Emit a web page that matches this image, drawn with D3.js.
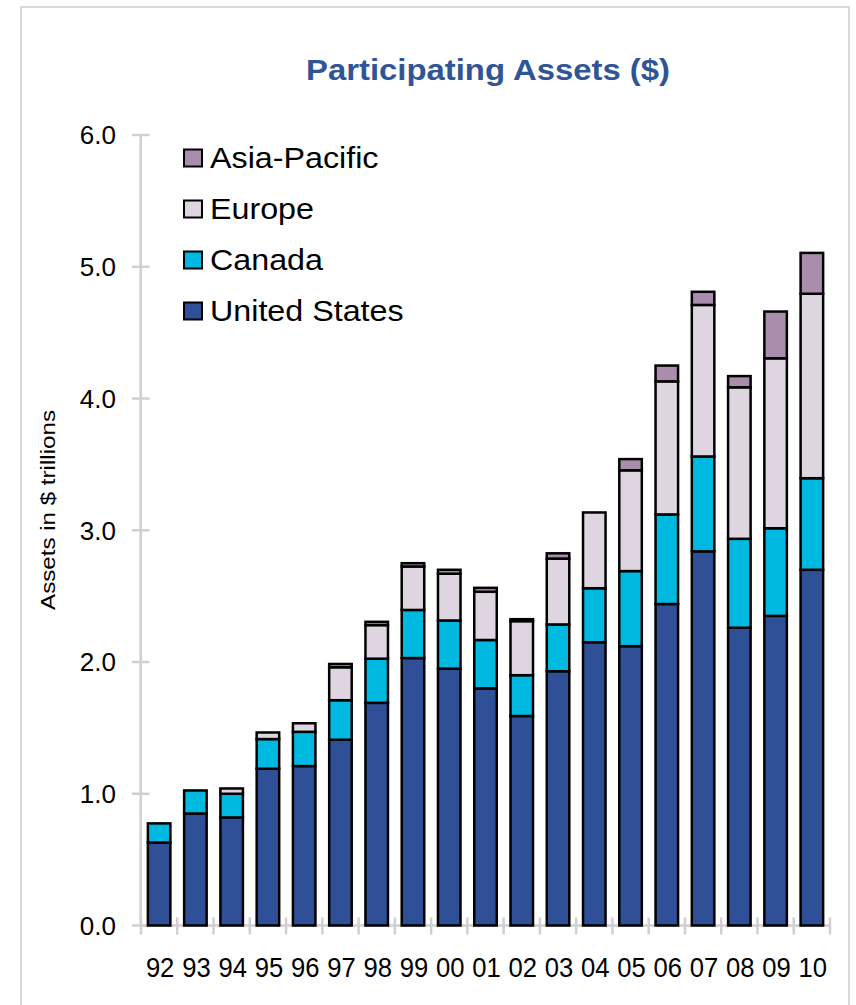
<!DOCTYPE html>
<html><head><meta charset="utf-8">
<script src="https://cdn.jsdelivr.net/npm/d3@7"></script>
<style>body{margin:0;background:#fff;}svg{display:block;font-family:"Liberation Sans",Arial,sans-serif;}</style>
</head><body>
<svg id="chart" width="856" height="1005"></svg>
<script>
const years = ["92","93","94","95","96","97","98","99","00","01","02","03","04","05","06","07","08","09","10"];
const unitedStates = [0.63,0.85,0.82,1.19,1.21,1.41,1.69,2.03,1.95,1.80,1.59,1.93,2.15,2.12,2.44,2.84,2.26,2.35,2.70];
const canada       = [0.145,0.175,0.18,0.225,0.26,0.30,0.335,0.365,0.365,0.367,0.31,0.355,0.41,0.57,0.68,0.72,0.675,0.665,0.695];
const europe       = [0,0,0.04,0.05,0.065,0.25,0.255,0.33,0.355,0.366,0.41,0.50,0.575,0.765,1.01,1.15,1.15,1.29,1.40];
const asiaPacific  = [0,0,0,0,0,0.025,0.025,0.025,0.03,0.03,0.015,0.04,0,0.085,0.12,0.10,0.085,0.355,0.31];
const seriesNames = ["United States","Canada","Europe","Asia-Pacific"];
const seriesColors = ["#2F5097","#00B9E1","#DED5E1","#AA8DAC"];
const yTicks = [0,1,2,3,4,5,6];
const titleText = "Participating Assets ($)";
const yLabel = "Assets in $ trillions";

const svg = d3.select("#chart");
// frame
svg.append("rect").attr("x",21).attr("y",7).attr("width",828).attr("height",1010)
  .attr("fill","none").attr("stroke","#d9d9d9").attr("stroke-width",2);

const x = d3.scaleBand().domain(years).range([141,830]).paddingInner(0.31).paddingOuter(0.155);
const y = d3.scaleLinear().domain([0,6]).range([925.5,135]);

const rows = years.map((yr,i)=>({year:yr,"United States":unitedStates[i],"Canada":canada[i],"Europe":europe[i],"Asia-Pacific":asiaPacific[i]}));
const stack = d3.stack().keys(seriesNames)(rows);

// axes (light grey)
const axisColor = "#d0d0d0";
svg.append("line").attr("x1",140.7).attr("x2",140.7).attr("y1",y(6)).attr("y2",y(0)+1)
  .attr("stroke",axisColor).attr("stroke-width",2.5);
svg.append("line").attr("x1",x.range()[0]).attr("x2",x.range()[1]).attr("y1",y(0)).attr("y2",y(0))
  .attr("stroke",axisColor).attr("stroke-width",2.5);
// y ticks
svg.selectAll(".yt").data(yTicks).enter().append("line")
  .attr("x1",132).attr("x2",149.5).attr("y1",d=>y(d)).attr("y2",d=>y(d))
  .attr("stroke",axisColor).attr("stroke-width",2.5);
svg.selectAll(".yl").data(yTicks).enter().append("text")
  .attr("x",116).attr("y",d=>y(d)).attr("dy","0.36em").attr("text-anchor","end")
  .attr("font-size",26).attr("fill","#000").text(d=>d3.format(".1f")(d));
// x ticks at band boundaries
const step = x.step();
const xb = d3.range(years.length+1).map(i=>x.range()[0]+i*step);
svg.selectAll(".xt").data(xb).enter().append("line")
  .attr("x1",d=>d).attr("x2",d=>d).attr("y1",y(0)-8).attr("y2",y(0)+9)
  .attr("stroke",axisColor).attr("stroke-width",2.5);
svg.selectAll(".xl").data(years).enter().append("text")
  .attr("x",d=>x(d)+x.bandwidth()/2+1).attr("y",977).attr("text-anchor","middle")
  .attr("font-size",27.5).attr("fill","#000")
  .attr("textLength",28.5).attr("lengthAdjust","spacingAndGlyphs").text(d=>d);

// bars
stack.forEach((s,si)=>{
  svg.append("g").selectAll("rect").data(s.filter(d=>d[1]-d[0]>0)).enter().append("rect")
    .attr("x",d=>x(d.data.year)+1.25).attr("width",x.bandwidth()-2.5)
    .attr("y",d=>y(d[1])).attr("height",d=>y(d[0])-y(d[1]))
    .attr("fill",seriesColors[si]).attr("stroke","#000").attr("stroke-width",2.5);
});

// title
svg.append("text").attr("x",306).attr("y",80).attr("font-size",30).attr("font-weight","bold")
  .attr("fill","#2F5597").attr("textLength",364).attr("lengthAdjust","spacingAndGlyphs").text(titleText);

// y label
svg.append("text").attr("transform","translate(55,510) rotate(-90)").attr("text-anchor","middle")
  .attr("font-size",20.5).attr("fill","#000").attr("textLength",200).attr("lengthAdjust","spacingAndGlyphs").text(yLabel);

// legend (reversed order)
const legendOrder = seriesNames.map((n,i)=>({n,c:seriesColors[i]})).reverse();
const lg = svg.append("g");
legendOrder.forEach((d,i)=>{
  const cy = 158 + i*51;
  lg.append("rect").attr("x",184).attr("y",cy-8.5).attr("width",18).attr("height",17)
    .attr("fill",d.c).attr("stroke","#000").attr("stroke-width",2);
  const t = lg.append("text").attr("x",210).attr("y",cy+10).attr("font-size",30).attr("fill","#000").text(d.n);
  const w = t.node().getComputedTextLength();
  t.attr("textLength",w*1.075).attr("lengthAdjust","spacingAndGlyphs");
});
</script>
</body></html>
